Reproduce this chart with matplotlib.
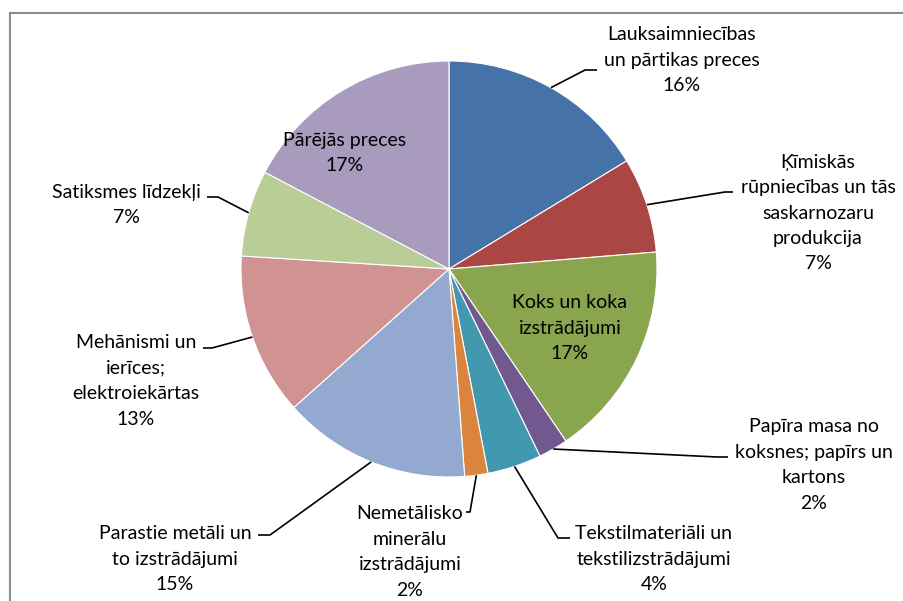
import matplotlib
matplotlib.use("Agg")
import matplotlib.pyplot as plt
from matplotlib.patches import Rectangle
import numpy as np

# slice data (share of total, %), clockwise from 12 o'clock
categories = [
    'Lauksaimniecības\nun pārtikas preces',
    'Ķīmiskās\nrūpniecības un tās\nsaskarnozaru\nprodukcija',
    'Koks un koka\nizstrādājumi',
    'Papīra masa no\nkoksnes; papīrs un\nkartons',
    'Tekstilmateriāli un\ntekstilizstrādājumi',
    'Nemetālisko\nminerālu\nizstrādājumi',
    'Parastie metāli un\nto izstrādājumi',
    'Mehānismi un\nierīces;\nelektroiekārtas',
    'Satiksmes līdzekļi',
    'Pārējās preces',
]
shares = [16.3, 7.4, 16.8, 2.3, 4.2, 1.8, 14.6, 12.6, 6.7, 17.3]
colors = ['#4572A7', '#AA4643', '#89A54E', '#71588F', '#4198AF',
          '#DB843D', '#93A9CF', '#D19392', '#B9CD96', '#A99BBD']

W, H = 904, 601
CX, CY, R = 449, 269, 208   # pie centre / radius in image pixels

plt.rcParams['font.family'] = ['Lato', 'DejaVu Sans']

fig = plt.figure(figsize=(W / 100, H / 100), dpi=100)
ax = fig.add_axes([0, 0, 1, 1])

ax.pie(shares, colors=colors, startangle=90, counterclock=False,
       center=(CX, H - CY), radius=R,
       wedgeprops=dict(edgecolor='white', linewidth=0.8))
ax.set_xlim(0, W)
ax.set_ylim(0, H)
ax.set_aspect('equal')
ax.axis('off')

# chart frame (only top and left visible in the crop)
ax.add_patch(Rectangle((10, -20), W + 50, H - 13 + 20, fill=False,
                       edgecolor='#8c8c8c', linewidth=1.5))

# label layout: index -> (text centre, elbow, end) in image pixels, None = inside label
layout = {
    0: ((682, 60), (585, 70), (597, 70)),
    1: ((818, 213), (725, 192), (733, 192)),
    2: ((570, 328), None, None),
    3: ((814, 465), (717, 457), (728, 457)),
    4: ((654, 559), (558, 538), (570, 538)),
    5: ((410, 552), (470, 512), (466, 512)),
    6: ((175, 559), (270, 535), (258, 535)),
    7: ((136, 381), (212, 348), (203, 348)),
    8: ((126, 205), (218, 197), (207, 197)),
    9: ((345, 153), None, None),
}

cum = np.cumsum([0] + shares)
for i, (name, val) in enumerate(zip(categories, shares)):
    (tx, ty), elbow, end = layout[i]
    ax.text(tx, H - ty, f'{name}\n{round(val)}%', ha='center', va='center',
            fontsize=14, color='black', linespacing=1.6)
    if elbow is None:
        continue
    mid = np.deg2rad((cum[i] + val / 2) / 100 * 360)
    sx = CX + R * np.sin(mid)
    sy = CY - R * np.cos(mid)
    ax.plot([sx, elbow[0], end[0]], [H - sy, H - elbow[1], H - end[1]],
            color='black', linewidth=1.2, solid_capstyle='butt')

fig.savefig('out.png', dpi=100)
